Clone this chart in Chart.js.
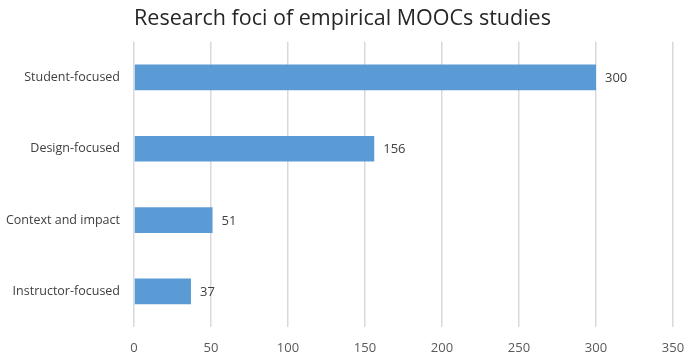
<!DOCTYPE html>
<html><head><meta charset="utf-8">
<script src="https://cdn.jsdelivr.net/npm/chart.js@4/dist/chart.umd.min.js"></script>
<style>html,body{margin:0;padding:0;background:#fff}#w{width:685px;height:355px}</style>
</head><body><div id="w"><canvas id="c"></canvas></div>
<script>
const categories = ["Student-focused", "Design-focused", "Context and impact", "Instructor-focused"];
const values = [300, 156, 51, 37];
const xTicks = [0, 50, 100, 150, 200, 250, 300, 350];

const FONT = "'Open Sans', 'Noto Sans', sans-serif";
const labelPlugin = {
  id: 'valueLabels',
  afterDatasetsDraw(chart) {
    const ctx = chart.ctx;
    const meta = chart.getDatasetMeta(0);
    ctx.save();
    ctx.font = "13px " + FONT;
    ctx.fillStyle = "#404040";
    ctx.textBaseline = "middle";
    ctx.textAlign = "left";
    meta.data.forEach((bar, i) => {
      ctx.fillText(String(values[i]), bar.x + 9, bar.y + 1);
    });
    ctx.restore();
  }
};

new Chart(document.getElementById('c'), {
  type: 'bar',
  data: {
    labels: categories,
    datasets: [{
      data: values,
      backgroundColor: '#5b9bd5',
      borderWidth: 0,
      categoryPercentage: 1,
      barPercentage: 0.36
    }]
  },
  options: {
    indexAxis: 'y',
    responsive: true,
    maintainAspectRatio: false,
    animation: false,
    layout: { padding: { left: 0, right: 0, top: 4, bottom: 0 } },
    plugins: {
      legend: { display: false },
      tooltip: { enabled: false },
      title: {
        display: true,
        text: 'Research foci of empirical MOOCs studies',
        color: '#262626',
        font: { family: FONT, size: 21.5, weight: 'normal' },
        padding: { top: 2, bottom: 10 }
      }
    },
    scales: {
      x: {
        min: 0, max: 350,
        afterBuildTicks(axis) { axis.ticks = xTicks.map(v => ({ value: v })); },
        afterFit(axis) { axis.height = 28; axis.paddingRight = 12; axis.paddingLeft = 0; },
        grid: { color: '#d9d9d9', lineWidth: 1.5, drawTicks: false },
        border: { display: false },
        ticks: { color: '#595959', font: { family: FONT, size: 13 }, padding: 13 }
      },
      y: {
        afterFit(axis) { axis.width = 134; },
        grid: { display: false, drawTicks: false },
        border: { display: false },
        ticks: { color: '#404040', font: { family: FONT, size: 12.5 }, padding: 14 }
      }
    }
  },
  plugins: [labelPlugin]
});
</script></body></html>
